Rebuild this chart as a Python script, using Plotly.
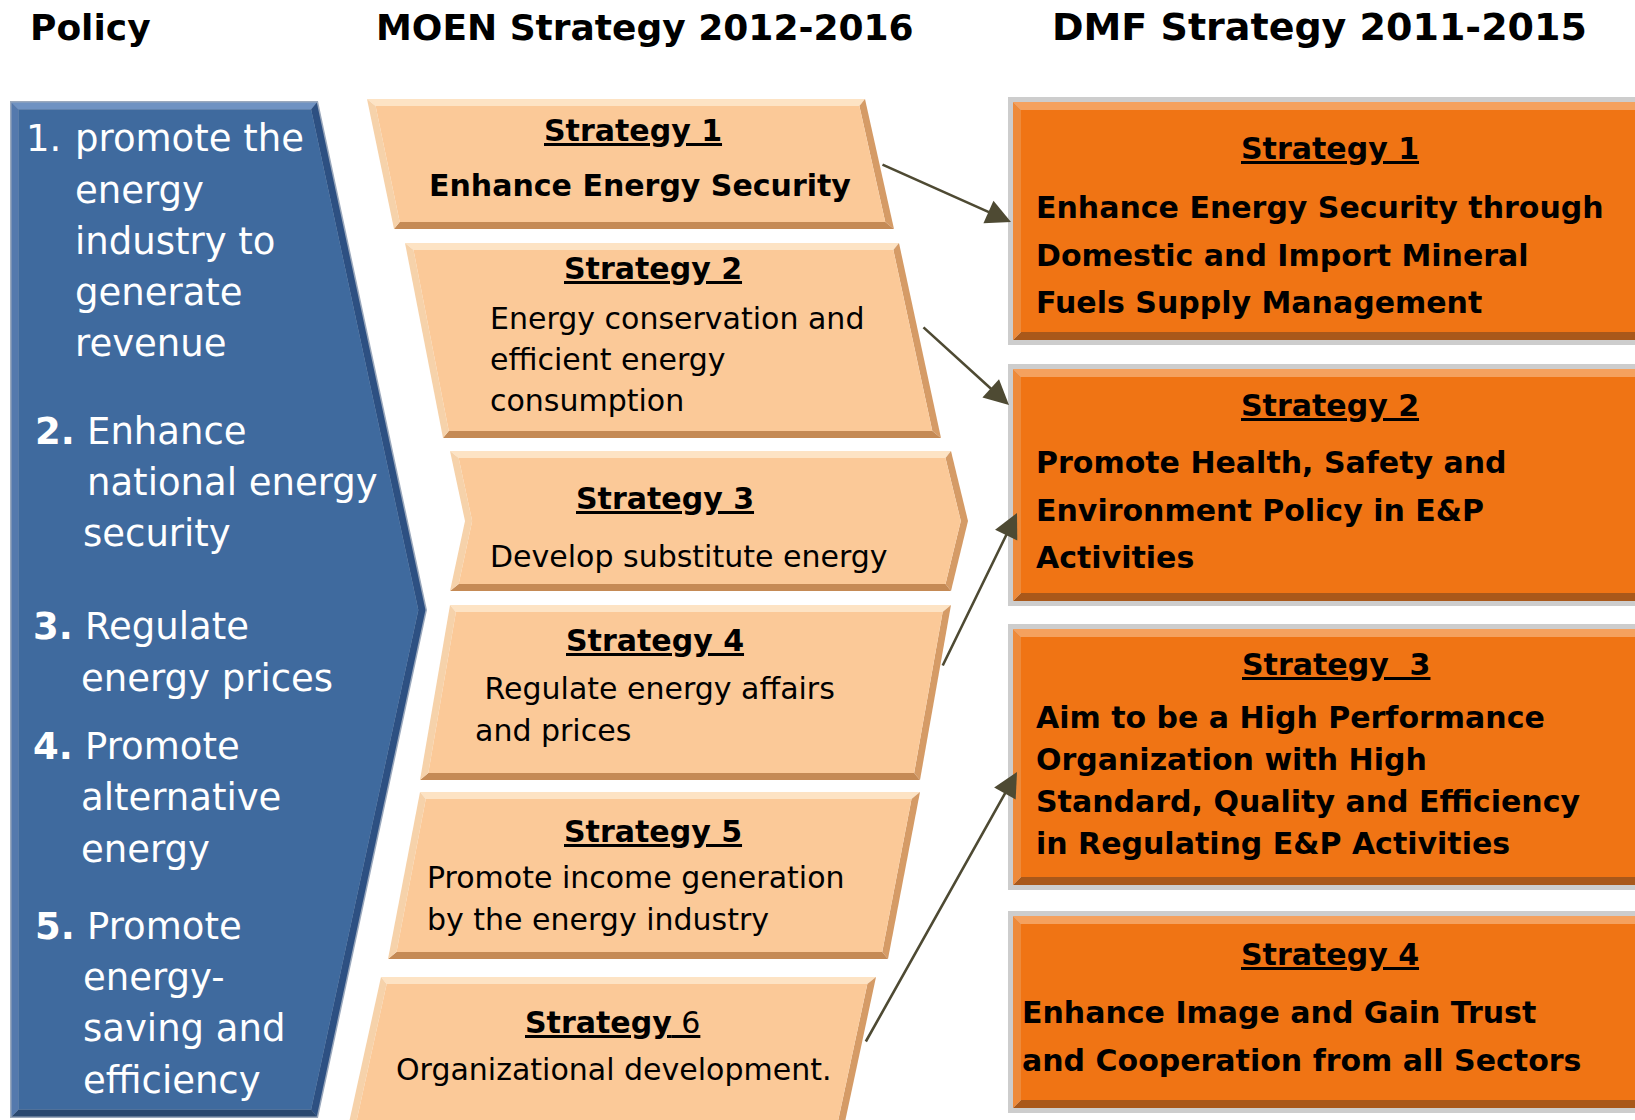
import plotly.graph_objects as go
from math import hypot

W, H = 1635, 1120
FONT = "DejaVu Sans"

# ---------------- data (texts) ----------------
titles = ["Policy", "MOEN Strategy 2012-2016", "DMF Strategy 2011-2015"]

policy_numbers = ["1.", "2.", "3.", "4.", "5."]
policy_number_bold = [False, True, True, True, True]
policy_texts = [
    ["promote the", "energy", "industry to", "generate", "revenue"],
    ["Enhance", "national energy", "security"],
    ["Regulate", "energy prices"],
    ["Promote", "alternative", "energy"],
    ["Promote", "energy-", "saving and", "efficiency"],
]

moen_titles = ["<u><b>Strategy 1</b></u>", "<u><b>Strategy 2</b></u>", "<u><b>Strategy 3</b></u>",
               "<u><b>Strategy 4</b></u>", "<u><b>Strategy 5</b></u>", "<u><b>Strategy</b> 6</u>"]
moen_desc = [
    ["Enhance Energy Security"],
    ["Energy conservation and", "efficient energy", "consumption"],
    ["Develop substitute energy"],
    ["\u00a0Regulate energy affairs", "and prices"],
    ["Promote income generation", "by the energy industry"],
    ["Organizational development."],
]
moen_desc_bold = [True, False, False, False, False, False]

dmf_titles = ["Strategy 1", "Strategy 2", "Strategy\u00a0\u00a03", "Strategy 4"]
dmf_desc = [
    ["Enhance Energy Security through", "Domestic and Import Mineral", "Fuels Supply Management"],
    ["Promote Health, Safety and", "Environment Policy in E&P", "Activities"],
    ["Aim to be a High Performance", "Organization with High",
     "Standard, Quality and Efficiency", "in Regulating E&P Activities"],
    ["Enhance Image and Gain Trust", "and Cooperation from all Sectors"],
]

# links MOEN strategy -> DMF strategy (1-based)
links = [(1, 1), (2, 2), (4, 2), (6, 3)]

# ---------------- layout geometry ----------------
title_x = [28, 645, 1319]
title_anchor = ["left", "center", "center"]
title_size = [36, 36, 38]
title_y = 27

policy_num_x = [24, 33, 31, 31, 33]
policy_line_x = [[73] * 5, [85, 85, 81], [83, 79], [83, 79, 79], [85, 81, 81, 81]]
policy_line_y = [[138, 190, 241, 292, 343], [431, 482, 533], [626, 678],
                 [746, 797, 849], [926, 977, 1028, 1080]]

blue_poly = [(10, 101), (318, 101), (427, 610), (318, 1118), (10, 1118)]

moen_polys = [
    [(367, 99), (865, 99), (894, 229), (394, 229)],
    [(405, 243), (899, 243), (941, 438), (443, 438)],
    [(450, 451), (951, 451), (968, 521), (951, 591), (450, 591), (465, 521)],
    [(450, 605), (951, 605), (920, 780), (420, 780)],
    [(420, 792), (920, 792), (888, 959), (388, 959)],
    [(381, 977), (876, 977), (839, 1150), (343, 1150)],
]
moen_title_pos = [(633, 130), (653, 268), (665, 498), (655, 640), (653, 831), (612, 1022)]
moen_desc_x = [640, 488, 488, 473, 425, 394]
moen_desc_anchor = ["center", "left", "left", "left", "left", "left"]
moen_desc_y = [[185], [318, 359, 400], [556], [688, 730], [877, 919], [1069]]

dmf_x0, dmf_x1 = 1013, 1660
dmf_y = [(102, 340), (369, 601), (629, 885), (916, 1108)]
dmf_title_pos = [(1330, 148), (1330, 405), (1336, 664), (1330, 954)]
dmf_desc_x = [1034, 1034, 1034, 1020]
dmf_desc_y = [[207, 255, 302], [462, 510, 557], [717, 759, 801, 843], [1012, 1060]]

arrow_tail = {1: (881, 164), 2: (922, 326), 4: (942, 667), 6: (865, 1043)}
arrow_head = [(1011, 222), (1009, 405), (1017, 513), (1017, 772)]

# ---------------- helpers ----------------
shapes = []


def path_of(pts):
    return "M " + " L ".join(f"{x:.2f},{y:.2f}" for x, y in pts) + " Z"


def add_poly(pts, color):
    shapes.append(dict(type="path", xref="x", yref="y", path=path_of(pts),
                       fillcolor=color, line=dict(width=0), layer="above"))


def inset(poly, d):
    n = len(poly)
    area = sum(poly[i][0] * poly[(i + 1) % n][1] - poly[(i + 1) % n][0] * poly[i][1]
               for i in range(n)) / 2
    sgn = 1 if area > 0 else -1
    lines, outward = [], []
    for i in range(n):
        x1, y1 = poly[i]
        x2, y2 = poly[(i + 1) % n]
        dx, dy = x2 - x1, y2 - y1
        L = hypot(dx, dy)
        nx, ny = -dy / L * sgn, dx / L * sgn
        lines.append(((x1 + nx * d, y1 + ny * d), (dx, dy)))
        outward.append((-nx, -ny))
    pts = []
    for i in range(n):
        (p1, d1), (p2, d2) = lines[i - 1], lines[i]
        den = d1[0] * d2[1] - d1[1] * d2[0]
        t = ((p2[0] - p1[0]) * d2[1] - (p2[1] - p1[1]) * d2[0]) / den
        pts.append((p1[0] + t * d1[0], p1[1] + t * d1[1]))
    return pts, outward


def bevel_shape(poly, d, fill, top, bottom, left, right, outline=None):
    if outline is not None:
        add_poly(poly, outline)
        poly, _ = inset(poly, 1.5)
    inner, outward = inset(poly, d)
    n = len(poly)
    for i in range(n):
        nx, ny = outward[i]
        if ny < -0.7:
            c = top
        elif ny > 0.7:
            c = bottom
        elif nx < 0:
            c = left
        else:
            c = right
        quad = [poly[i], poly[(i + 1) % n], inner[(i + 1) % n], inner[i]]
        add_poly(quad, c)
    add_poly(inner, fill)


# ---------------- shapes ----------------
# blue policy arrow
bevel_shape(blue_poly, 7, "#3F6A9E", "#6F92C2", "#2A4870", "#5479AD", "#2D5082", outline="#9AA8BC")

# MOEN boxes
for poly in moen_polys:
    bevel_shape(poly, 7, "#FBC998", "#FDE3C4", "#C58A55", "#F6D2AA", "#D59B66")

# DMF boxes
for (y0, y1) in dmf_y:
    add_poly([(dmf_x0 - 5, y0 - 5), (dmf_x1, y0 - 5), (dmf_x1, y1 + 5), (dmf_x0 - 5, y1 + 5)], "#CDCDCD")
    bevel_shape([(dmf_x0, y0), (dmf_x1, y0), (dmf_x1, y1), (dmf_x0, y1)], 8,
                "#F07414", "#F5A15E", "#A9581A", "#EE8A3A", "#C7620F")

# ---------------- annotations ----------------
ann = []


def txt(x, y, s, size, color="black", anchor="left", bold=False):
    if bold:
        s = f"<b>{s}</b>"
    ann.append(dict(x=x, y=y, xref="x", yref="y", text=s, showarrow=False,
                    xanchor=anchor, yanchor="middle",
                    font=dict(family=FONT, size=size, color=color)))


for t, x, a, sz in zip(titles, title_x, title_anchor, title_size):
    txt(x, title_y, t, sz, anchor=a, bold=True)

for k in range(len(policy_numbers)):
    txt(policy_num_x[k], policy_line_y[k][0], policy_numbers[k], 37, "white",
        bold=policy_number_bold[k])
    for s, x, y in zip(policy_texts[k], policy_line_x[k], policy_line_y[k]):
        txt(x, y, s, 37, "white")

for k in range(len(moen_titles)):
    tx, ty = moen_title_pos[k]
    txt(tx, ty, moen_titles[k], 30, anchor="center")
    for s, y in zip(moen_desc[k], moen_desc_y[k]):
        txt(moen_desc_x[k], y, s, 30, anchor=moen_desc_anchor[k], bold=moen_desc_bold[k])

for k in range(len(dmf_titles)):
    tx, ty = dmf_title_pos[k]
    txt(tx, ty, f"<u>{dmf_titles[k]}</u>", 30, anchor="center", bold=True)
    for s, y in zip(dmf_desc[k], dmf_desc_y[k]):
        txt(dmf_desc_x[k], y, s, 30, bold=True)

for (src, dst), head in zip(links, arrow_head):
    tail = arrow_tail[src]
    ann.append(dict(x=head[0], y=head[1], ax=tail[0], ay=tail[1], xref="x", yref="y",
                    axref="x", ayref="y", text="", showarrow=True, arrowhead=2,
                    arrowsize=1.9, arrowwidth=2.6, arrowcolor="#4E4A33", standoff=0,
                    startstandoff=0))

fig = go.Figure()
fig.add_trace(go.Scatter(x=[], y=[], mode="markers", showlegend=False, hoverinfo="skip"))
fig.update_layout(
    width=W, height=H, margin=dict(l=0, r=0, t=0, b=0),
    paper_bgcolor="white", plot_bgcolor="white",
    xaxis=dict(range=[0, W], visible=False, fixedrange=True),
    yaxis=dict(range=[H, 0], visible=False, fixedrange=True),
    shapes=shapes, annotations=ann, showlegend=False,
)
fig.write_html("out.html", config={"displayModeBar": False},
               post_script="document.body.style.margin='0';document.body.style.overflow='hidden';")
